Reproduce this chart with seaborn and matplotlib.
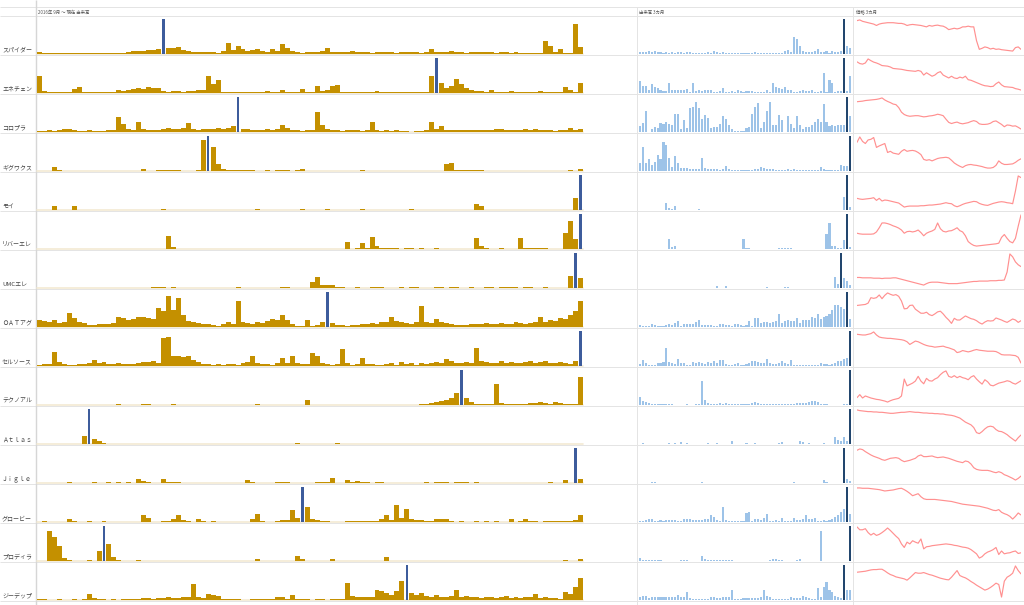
import pandas as pd
import matplotlib
matplotlib.use('Agg')
import matplotlib.pyplot as plt
import seaborn as sns

sns.set_theme(style='white')
plt.rcParams['font.family'] = ['Noto Sans CJK JP', 'DejaVu Sans']

names = ['スパイダー', 'エネチェン', 'コロプラ', 'ギグワクス', 'モイ', 'リバーエレ', 'UMCエレ',
         'ＯＡＴアグ', 'セルソース', 'テクノアル', 'Ａｔｌａｓ', 'Ｊｉｇｌｅ', 'グロービー',
         'プロディラ', 'ジーデップ']
header_long = '2016年 9月 ～ 現在 出来高'
header_3m = '出来高 3カ月'
header_price = '価格 3カ月'

# volume since 2016/9 (relative, one value per bar)
vol_long = [
    [6,3,2,2,3,2,2,3,2,2, 3,2,2,3,2,2,2,3,6,8, 10,9,12,11,13,100,18,16,20,12,
     8,6,5,7,5,6,4,9,32,12, 24,15,10,12,14,8,6,14,10,28, 18,8,5,4,6,5,7,9,17,6,
     7,5,6,8,5,6,7,4,5,6, 5,6,4,5,7,6,5,4,6,14, 7,5,6,8,6,5,4,6,5,7,
     6,5,4,5,6,4,5,3,4,3, 4,3,38,22,5,14,4,3,85,20],
    [48,6,3,2,4,3,2,12,18,3, 2,2,2,3,2,2,9,6,8,11, 14,12,16,13,15,5,4,6,5,4,
     6,7,8,9,50,26,36,4,3,3, 2,3,2,4,2,3,5,4,3,8, 4,3,3,12,4,4,20,6,8,20,
     22,3,3,2,3,2,3,2,6,3, 2,3,2,3,4,2,3,2,3,50, 100,30,15,20,40,25,15,10,6,5,
     4,8,3,3,4,6,3,2,3,4, 3,7,3,2,3,3,16,10,3,30],
    [4,3,5,4,6,10,8,5,4,3, 5,4,3,4,6,5,42,22,10,5, 28,8,6,5,7,10,12,9,8,11,
     26,8,7,9,10,8,11,9,12,18, 100,10,8,7,6,7,8,6,9,20, 12,6,5,4,6,5,58,20,8,5,
     6,4,7,5,6,4,5,28,5,4, 6,3,5,4,2,1,2,3,5,28, 10,16,6,5,7,6,5,6,7,5,
     6,7,10,9,6,5,6,7,8,6, 10,7,5,6,4,6,5,12,6,8],
    [1,1,1,12,2,1,1,1,1,0, 1,0,1,0,1,1,0,1,1,1, 1,5,1,1,3,3,3,2,3,1,
     1,1,2,90,100,70,20,6,3,2, 2,3,4,2,1,1,2,1,3,3, 3,1,2,6,1,1,0,1,1,1,
     1,1,1,0,1,2,1,1,1,0, 1,1,0,1,1,1,0,1,1,1, 1,1,20,24,4,2,3,3,3,2,
     1,1,1,0,1,0,1,1,0,1, 1,0,1,1,1,0,1,2,1,6],
    [1,0,1,12,1,0,0,12,1,0, 0,1,0,0,0,1,0,0,0,0, 0,0,1,0,0,2,0,0,0,0,
     0,0,1,0,0,0,0,0,0,1, 0,0,0,1,3,0,0,0,0,1, 0,0,1,4,0,0,0,1,2,0,
     0,0,1,0,0,4,0,0,0,0, 0,1,0,0,0,4,0,0,0,1, 0,0,1,0,0,0,1,0,18,12,
     0,0,1,0,0,0,0,1,0,0, 0,0,1,0,0,0,0,1,35,100],
    [0,0,0,0,0,0,0,0,0,0, 0,0,0,0,0,0,0,1,1,0, 0,0,0,0,0,0,38,6,1,0,
     0,0,0,0,0,0,0,0,0,0, 0,0,0,0,0,0,0,0,0,0, 1,0,0,0,0,0,0,0,0,0,
     0,0,20,1,4,18,3,34,10,4, 3,2,2,1,2,2,1,2,1,1, 2,1,1,0,1,0,0,0,32,8,
     2,1,1,2,1,1,1,32,3,2, 2,4,2,1,1,1,45,80,30,100],
    [0,0,0,0,0,0,0,0,0,0, 0,0,0,0,1,0,1,1,1,1, 1,1,1,2,2,2,1,2,1,0,
     0,0,0,0,0,0,0,0,0,0, 2,0,0,0,0,0,0,0,1,2, 2,1,0,0,0,18,32,8,8,10,
     3,2,1,1,2,1,1,2,3,2, 1,1,1,2,1,2,2,1,1,1, 2,2,1,3,2,1,1,2,1,1,
     2,3,1,2,3,2,2,1,2,2, 1,1,2,1,1,1,1,35,100,28],
    [20,18,15,20,12,14,40,25,15,12, 5,6,8,8,10,12,30,25,20,22, 28,30,25,22,55,45,90,50,82,35,
     18,15,12,8,10,5,2,10,15,8, 75,15,12,10,14,12,16,22,20,35, 20,10,3,2,20,4,5,15,100,12,
     6,5,4,5,6,8,10,12,10,14, 15,30,18,15,12,10,14,60,15,12, 22,14,12,10,6,5,5,8,10,8,
     12,10,8,12,10,8,14,12,10,12, 15,28,14,20,18,25,22,35,45,75],
    [4,5,6,40,12,5,3,4,5,6, 8,18,8,12,6,5,8,6,5,7, 8,12,12,14,10,80,82,30,28,25,
     30,18,12,6,5,4,5,4,6,5, 4,8,12,28,10,6,5,4,8,22, 10,30,8,6,5,38,30,8,5,4,
     6,50,10,4,5,22,5,6,4,3, 5,8,4,12,5,10,4,8,6,10, 12,10,20,15,10,8,12,10,52,14,
     12,10,8,14,10,12,8,10,12,14, 10,12,15,8,10,12,8,6,15,100],
    [0,0,0,1,0,0,0,0,0,0, 0,0,0,0,0,1,2,1,0,0, 1,4,2,1,0,1,1,2,1,0,
     0,0,0,0,0,0,1,0,0,0, 0,0,1,1,2,0,0,0,0,0, 0,1,0,0,14,0,0,0,1,0,
     0,0,1,0,0,0,1,0,0,1, 0,0,1,0,0,1,1,2,3,5, 8,12,15,20,35,100,20,8,4,3,
     2,2,60,6,3,2,3,3,4,5, 6,8,6,4,8,6,3,2,2,80],
    [0,0,0,0,0,0,0,0,0,22, 100,15,8,3,0,0,0,0,0,0, 0,0,0,0,0,0,0,0,0,0,
     0,0,0,0,0,0,0,0,0,0, 0,0,0,0,0,0,0,0,0,0, 0,0,3,0,0,0,0,0,0,0,
     2,0,0,0,0,0,0,0,0,0, 0,0,0,0,0,0,0,0,0,0, 0,0,0,0,0,0,0,0,0,0,
     0,0,0,0,0,0,0,0,0,0, 0,0,0,0,0,0,0,0,0,0],
    [1,1,0,1,0,1,3,1,0,1, 1,2,1,1,2,1,2,1,2,1, 12,5,2,1,1,12,2,2,2,1,
     0,0,0,0,0,0,0,0,0,0, 0,0,10,3,1,0,1,1,2,2, 2,0,0,0,0,0,2,3,3,14,
     1,1,8,2,6,2,2,1,2,2, 1,0,0,0,0,0,0,1,2,1, 2,3,2,1,2,3,2,1,2,1,
     0,0,1,0,0,0,0,0,0,1, 0,1,0,3,0,1,10,1,100,12],
    [1,2,1,1,0,1,10,3,1,0, 2,1,0,2,0,1,0,0,0,1, 1,20,12,1,1,2,3,8,20,6,
     2,1,10,3,1,2,1,0,0,0, 1,0,1,8,22,3,1,1,3,5, 5,35,12,100,42,8,5,3,2,1,
     1,1,2,3,2,3,4,3,4,10, 20,6,50,12,38,10,6,5,3,2, 8,10,8,3,1,2,1,1,2,1,
     3,1,2,1,1,8,1,2,8,2, 3,1,2,3,4,2,3,2,6,20],
    [0,0,85,70,42,10,4,1,1,0, 2,0,30,100,50,12,4,0,0,1, 2,1,0,0,0,0,0,0,0,0,
     0,0,0,0,0,0,0,0,0,0, 0,0,0,0,6,0,0,0,0,0, 0,0,14,6,0,0,0,0,0,6,
     0,0,0,0,0,0,0,0,0,0, 12,0,0,0,0,0,0,0,0,0, 0,0,0,0,1,0,0,0,0,0,
     0,0,0,0,0,0,0,0,0,0, 0,0,0,0,0,0,4,0,0,5],
    [2,2,1,1,2,1,1,2,1,2, 18,6,2,2,1,2,1,3,2,2, 2,6,5,4,5,6,8,7,6,8,
     10,45,8,6,18,15,12,4,3,3, 2,1,1,2,3,2,2,4,8,10, 3,14,3,2,2,1,2,2,1,2,
     3,4,50,12,10,8,9,10,28,25, 20,14,25,55,100,20,14,20,12,10, 14,8,10,12,28,10,12,8,10,6,
     8,10,6,8,12,6,8,5,10,9, 16,6,8,5,6,4,22,18,38,62],
]
hi_long = [25, 80, 40, 34, 109, 109, 108, 58, 109, 85, 10, 108, 53, 13, 74]

# volume, last 3 months
vol_3m = [
    [5,6,5,8,7,8,6,5,4,5, 4,6,3,5,5,4,5,5,4,3, 3,2,3,5,3,8,5,3,5,4, 3,3,3,2,3,4,3,2,3,6,
     2,3,3,3,2,3,4,3,4,8, 12,6,50,42,22,8,6,5,7,8, 14,6,5,10,4,9,6,5,8,100, 22,18],
    [35,20,20,10,26,18,15,8,5,6, 28,10,8,10,10,10,12,4,28,5, 8,5,8,8,8,4,3,6,14,3, 3,6,4,8,6,4,6,6,6,4,
     4,4,4,8,4,28,18,14,12,16, 10,10,4,4,6,8,6,6,10,4, 4,6,58,4,38,28,4,6,5,100, 5,48],
    [18,25,60,0,8,14,12,25,24,30, 22,20,52,52,10,35,12,70,72,85, 70,38,48,40,12,14,14,22,46,36, 20,10,2,2,2,2,12,14,52,72,
     82,12,30,60,85,20,20,50,34,0, 46,24,12,46,20,10,14,14,20,28, 36,30,80,30,18,20,18,20,20,20, 100,46],
    [24,70,24,34,18,26,46,34,84,74, 36,12,44,24,10,8,8,6,5,5, 6,36,8,5,6,6,6,4,5,15, 5,4,4,4,3,3,3,4,4,6,
     6,12,8,5,6,5,4,3,4,4, 6,4,6,3,2,2,2,2,2,2, 2,12,6,4,2,2,2,2,16,15, 15,100],
    [1,1,1,1,1,1,1,1,1,20, 5,3,12,1,1,1,1,1,1,1, 2,1,1,1,1,1,1,1,1,1, 1,1,1,1,1,1,1,1,1,1,
     1,1,1,1,1,1,1,1,1,1, 1,1,1,1,1,1,1,1,1,1, 1,1,1,1,1,1,1,1,1,38, 100,10],
    [1,1,1,1,1,1,1,1,1,1, 30,5,10,1,1,1,1,1,1,1, 1,1,1,1,1,1,1,1,1,1, 1,1,1,1,1,28,3,2,1,1,
     1,1,1,1,1,1,1,3,3,3, 2,2,1,1,1,1,1,1,1,1, 1,1,1,42,75,8,8,4,2,26, 100,5],
    [1,1,1,1,1,1,1,1,1,1, 1,1,1,1,1,1,1,1,1,1, 1,1,1,1,1,1,5,1,1,6, 1,1,1,1,1,1,1,1,1,1,
     1,1,1,2,1,1,1,1,1,2, 2,1,1,1,1,1,1,1,1,1, 1,1,1,1,1,1,32,12,100,30, 20,8],
    [5,4,2,2,10,6,4,4,4,6, 10,6,12,16,4,8,10,10,8,14, 20,6,6,6,5,4,4,10,10,6, 6,4,10,8,6,4,6,16,4,26,
     26,12,14,14,12,14,16,36,12,18, 20,16,16,26,12,20,20,20,30,26, 36,24,28,32,36,48,62,62,58,52, 100,24],
    [6,18,8,4,4,4,8,8,12,52, 12,10,6,20,8,8,2,2,12,10, 12,8,6,12,8,14,10,16,18,6, 4,4,6,8,4,4,6,10,14,14,
     12,8,8,20,8,6,6,8,14,10, 6,16,4,4,2,4,4,2,2,4, 4,8,6,6,4,6,8,14,14,20, 22,100],
    [22,12,10,6,4,3,2,2,2,3, 2,2,1,1,1,1,2,1,1,2, 3,68,15,6,4,4,4,5,4,6, 4,3,2,2,2,2,3,3,6,8,
     6,4,3,3,3,3,4,4,3,3, 3,4,4,5,5,5,5,10,12,12, 8,4,2,2,1,1,1,1,1,2, 2,100],
    [1,2,1,1,1,1,1,1,1,1, 3,1,4,1,5,1,4,1,1,1, 1,1,1,2,1,1,2,1,1,1, 1,8,1,1,1,1,3,1,1,4,
     1,1,1,1,1,1,1,4,6,1, 1,1,1,1,8,6,1,4,1,1, 1,1,2,1,1,1,20,12,8,20, 10,100],
    [1,1,1,1,4,4,1,1,1,1, 1,1,1,1,1,1,1,1,1,1, 1,2,1,1,1,1,1,1,1,1, 1,1,1,1,1,1,1,1,1,1,
     1,1,1,1,1,1,1,1,1,1, 1,1,4,1,1,1,1,1,1,1, 1,1,10,4,1,1,1,1,1,100, 12,6],
    [3,3,6,8,8,3,3,6,3,6, 6,6,6,4,4,8,8,8,6,6, 6,6,8,8,20,14,6,4,42,6, 4,3,2,2,2,2,26,30,4,10,
     10,6,12,24,2,2,6,2,12,3, 4,2,12,6,6,10,20,10,8,12, 4,4,6,2,6,8,14,20,28,36, 100,22],
    [8,4,2,4,2,3,2,2,1,1, 1,1,1,1,3,3,3,1,1,1, 1,14,5,4,3,3,3,3,3,2, 2,3,1,1,1,1,1,1,1,1,
     1,1,1,1,4,5,6,4,2,1, 1,1,1,4,5,1,1,1,1,1, 1,86,1,1,1,1,1,1,1,1, 1,100],
    [10,12,12,6,10,10,10,10,10,8, 10,8,10,14,8,8,22,6,4,4, 4,4,4,4,10,10,6,6,10,10, 8,28,4,4,4,6,6,6,6,6,
     6,8,28,12,8,4,4,4,4,4, 4,8,6,6,6,12,8,6,4,4, 35,8,36,52,30,22,12,10,6,100, 28,28],
]
hi_3m = [69, 69, 70, 71, 70, 70, 68, 70, 71, 71, 71, 69, 70, 71, 69]

# price, last 3 months (relative)
price_3m = [
    [92,94,90,88,86,84,82,78,82,84, 85,86,86,86,85,84,84,82,78,80, 81,80,79,78,76,74,78,76,78,79,
     77,76,72,66,68,70,68,70,74,74, 76,74,74,34,9,12,16,14,10,12, 9,10,8,7,6,5,4,14,16,9],
    [98,92,90,94,108,102,97,94,90,85, 84,83,80,75,74,73,72,70,68,67, 66,65,68,65,52,60,54,48,52,60,
     64,52,47,42,48,42,40,45,42,48, 36,34,30,26,22,18,15,14,12,13, 22,28,18,12,11,10,9,5,3,0],
    [96,97,98,100,101,102,103,104,106,109, 102,97,93,88,86,76,60,52,48,46, 47,48,48,46,44,45,47,48,50,53,
     51,48,36,25,21,24,26,22,20,22, 24,28,31,28,20,18,18,19,22,28, 30,24,18,10,16,15,12,13,8,2],
    [90,108,93,86,98,100,106,73,78,82, 86,56,60,54,52,50,60,66,60,62, 63,61,56,49,33,30,32,28,32,36,
     38,39,40,38,30,21,15,10,6,12, 15,16,14,13,11,9,6,4,4,6, 13,28,20,16,16,17,18,23,30,35],
    [30,28,27,28,29,30,32,24,30,22, 25,24,22,20,18,16,10,4,6,7, 7,7,7,8,8,9,10,10,11,12,
     13,15,17,15,14,8,5,8,12,15, 17,19,21,20,15,12,10,9,12,15, 17,19,20,19,17,16,14,52,97,92],
    [43,41,40,40,40,40,41,47,60,75, 75,73,70,66,63,59,53,43,48,49, 47,49,53,45,35,43,47,50,55,75,
     57,49,47,50,51,55,60,51,47,35, 17,10,5,3,4,5,6,7,8,9, 10,12,30,39,27,17,13,27,65,100],
    [25,25,24,24,24,24,23,23,23,22, 23,23,23,24,24,22,20,18,16,14, 12,10,8,6,4,8,11,12,12,12,
     11,10,9,8,8,8,8,9,10,11, 12,13,14,14,15,15,15,15,16,16, 16,17,17,18,40,90,82,68,60,55],
    [58,59,60,61,65,81,79,81,89,78, 88,95,91,88,90,85,71,48,49,58, 59,47,41,35,35,38,31,28,33,39,
     41,33,23,15,5,20,15,15,21,27, 23,19,17,13,7,3,9,13,12,13, 21,18,15,11,8,13,18,15,8,13],
    [88,87,86,86,88,90,95,86,80,78, 77,76,76,75,74,73,72,70,66,58, 63,68,66,62,58,55,53,52,50,51,
     52,53,50,48,45,42,34,36,40,38, 36,38,41,43,41,40,39,38,38,38, 37,33,28,27,27,27,26,25,20,3],
    [17,26,16,22,19,16,14,12,11,9, 7,4,8,11,13,15,22,72,52,56, 60,66,80,66,58,74,67,66,72,76,
     85,92,96,80,77,82,76,80,76,74, 70,78,82,72,64,57,70,64,54,52, 56,60,62,64,67,65,60,57,62,67],
    [97,95,94,93,92,92,91,91,90,90, 89,88,87,87,88,89,90,90,91,92, 91,90,90,89,88,88,87,87,86,86,
     85,85,83,82,81,79,76,73,67,61, 57,53,45,30,27,33,41,47,49,47, 39,34,33,29,24,17,11,5,15,23],
    [92,96,94,88,83,78,74,71,68,64, 62,65,68,69,70,68,62,58,60,62, 65,68,75,78,73,73,74,75,72,70,
     71,72,70,68,65,62,59,57,55,60, 58,51,40,35,33,32,32,32,30,27, 25,28,25,19,16,12,8,3,8,15],
    [95,95,94,94,94,93,92,91,90,88, 86,87,88,89,91,93,94,90,85,79, 72,75,78,69,63,61,61,61,61,60,
     59,58,57,56,55,53,51,49,47,46, 45,44,43,42,41,39,37,35,32,29, 28,31,23,19,16,11,3,11,21,15],
    [96,88,88,91,80,73,78,72,75,80, 86,93,86,78,70,63,48,38,53,48, 57,53,50,62,34,40,41,43,44,45,
     46,47,48,47,46,44,43,41,39,38, 36,32,26,20,8,12,20,25,28,32, 38,18,28,20,22,23,26,28,21,23],
    [77,78,79,80,82,84,85,85,86,86, 81,75,70,67,63,61,59,57,53,60, 68,76,74,74,76,73,70,68,65,62,
     59,57,55,54,62,72,82,67,63,60, 55,49,44,38,33,28,23,26,31,37, 44,40,2,50,62,67,74,96,82,72],
]

GOLD = '#C49000'
HILITE = '#3D5C9C'
LIGHT_BLUE = '#9DC3E8'
DARK_BLUE = '#22466E'
RED = '#FF9090'
GRID = '#E4E4E4'

W, H = 1024, 605
fig = plt.figure(figsize=(W / 100, H / 100), dpi=100)
fig.patch.set_facecolor('white')

bg = fig.add_axes([0, 0, 1, 1])
bg.set_xlim(0, W)
bg.set_ylim(H, 0)
bg.axis('off')


def px_axes(x0, x1, y0, y1):
    return fig.add_axes([x0 / W, 1 - y1 / H, (x1 - x0) / W, (y1 - y0) / H])


def thin_highlight(ax, color, frac):
    # narrow the highlighted bar so it reads as a marker line
    for patch in ax.patches:
        if matplotlib.colors.to_hex(patch.get_facecolor()) == color.lower():
            w = patch.get_width()
            patch.set_x(patch.get_x() + w * (1 - frac) / 2)
            patch.set_width(w * frac)
            patch.set_zorder(3)


top0, row_h = 16, 39
n_rows = len(names)

# frame lines
bg.hlines([7] + [top0 + row_h * i for i in range(n_rows + 1)], 0, W, color=GRID, lw=0.7)
bg.vlines(36, 0, H, color='#D6D6D6', lw=1.0)
bg.vlines([637, 853], 7, H, color=GRID, lw=0.7)

bg.text(38, 12, header_long, fontsize=3.2, color='#555555', va='center')
bg.text(639, 12, header_3m, fontsize=3.2, color='#555555', va='center')
bg.text(856, 12, header_price, fontsize=3.2, color='#555555', va='center')

for i, name in enumerate(names):
    top = top0 + row_h * i
    bot = top + row_h
    bg.text(2, bot - 5, name, fontsize=4.3, color='#444444', va='center')

    # long-term volume
    ax = px_axes(37, 583, top + 2, bot - 1)
    v = vol_long[i]
    df = pd.DataFrame({'x': range(len(v)), 'v': v,
                       'k': ['hi' if j == hi_long[i] else 'base' for j in range(len(v))]})
    ax.axhline(0, color='#F3EAD3', lw=1.2, zorder=0, clip_on=False)
    sns.barplot(data=df, x='x', y='v', hue='k', palette={'base': GOLD, 'hi': HILITE},
                dodge=False, width=1.0, saturation=1, linewidth=0, errorbar=None,
                legend=False, ax=ax)
    thin_highlight(ax, HILITE, 0.5)
    ax.set_xlim(-0.5, len(v) - 0.5)
    ax.set_ylim(0, max(v) * 1.03)
    ax.axis('off')

    # 3-month volume
    ax2 = px_axes(638, 852, top + 2, bot - 1)
    v2 = vol_3m[i]
    df2 = pd.DataFrame({'x': range(len(v2)), 'v': v2,
                        'k': ['hi' if j == hi_3m[i] else 'base' for j in range(len(v2))]})
    sns.barplot(data=df2, x='x', y='v', hue='k', palette={'base': LIGHT_BLUE, 'hi': DARK_BLUE},
                dodge=False, width=0.7, saturation=1, linewidth=0, errorbar=None,
                legend=False, ax=ax2)
    ax2.set_xlim(-0.6, len(v2) - 0.4)
    ax2.set_ylim(0, max(v2) * 1.03)
    ax2.axis('off')

    # 3-month price
    ax3 = px_axes(857, 1021, top + 3, bot - 3)
    p = price_3m[i]
    sns.lineplot(x=list(range(len(p))), y=p, color=RED, lw=0.85, ax=ax3)
    pad = (max(p) - min(p)) * 0.03
    ax3.set_xlim(0, len(p) - 1)
    ax3.set_ylim(min(p) - pad, max(p) + pad)
    ax3.axis('off')

fig.savefig('out.png', dpi=100, facecolor='white')
